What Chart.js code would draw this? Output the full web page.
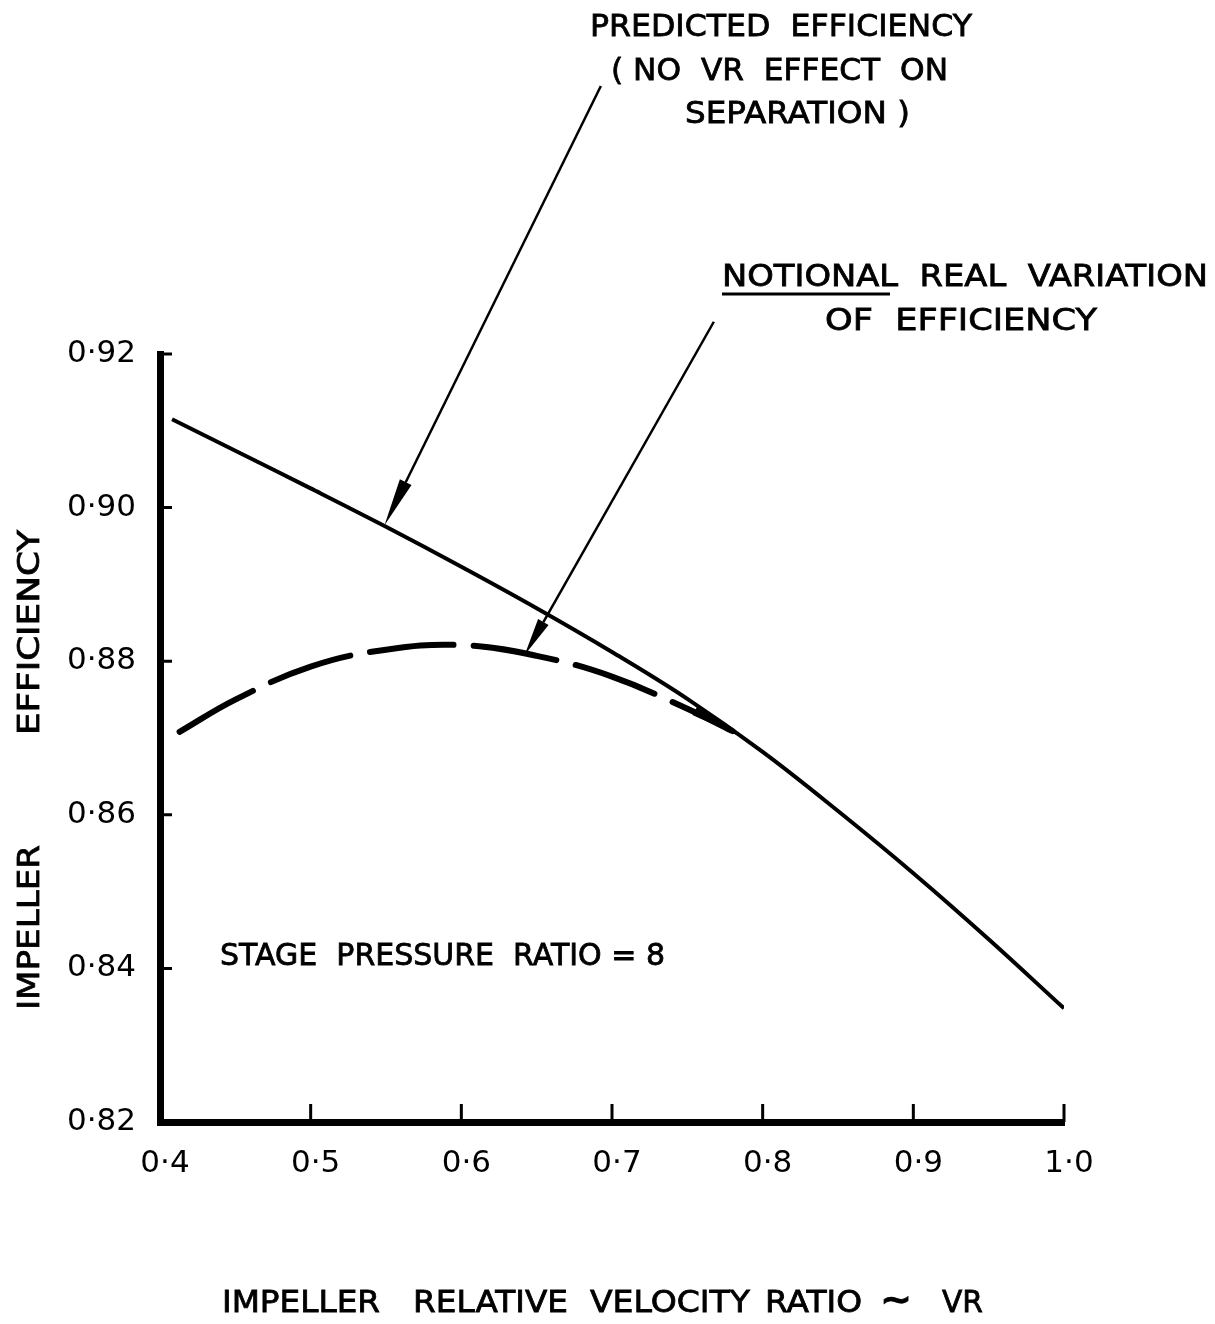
<!DOCTYPE html>
<html>
<head>
<meta charset="utf-8">
<script src="https://cdn.jsdelivr.net/npm/chart.js@4.4.0/dist/chart.umd.min.js"></script>
<style>
  html, body { margin: 0; padding: 0; background: #fff; }
  canvas { display: block; }
</style>
</head>
<body>
<canvas id="chart" width="1215" height="1324"></canvas>
<script>
// Impeller efficiency vs relative velocity ratio, stage pressure ratio 8

const vrPredicted  = [0.408, 0.45, 0.5, 0.55, 0.6, 0.65, 0.7, 0.75, 0.8, 0.85, 0.9, 0.95, 1.0];
const effPredicted = [0.9115, 0.9074, 0.9025, 0.8975, 0.8923, 0.8869, 0.8812, 0.8751, 0.8682, 0.8605, 0.8524, 0.8438, 0.8348];

const vrNotional  = [0.413, 0.45, 0.5, 0.55, 0.6, 0.65, 0.7, 0.75, 0.78];
const effNotional = [0.8708, 0.8750, 0.8793, 0.8815, 0.8821, 0.8807, 0.8780, 0.8738, 0.8709];

const xTicks = [0.4, 0.5, 0.6, 0.7, 0.8, 0.9, 1.0];
const yTicks = [0.82, 0.84, 0.86, 0.88, 0.90, 0.92];

const FONT = '"DejaVu Sans", sans-serif';
const INK = '#000';

const toPoints = (xs, ys) => xs.map((x, i) => ({ x, y: ys[i] }));
const fmt = (v, d) => v.toFixed(d).replace('.', '\u00b7');

// text squeezed / stretched so it sits between x1 and x2
function fitText(ctx, text, x1, x2, cy, size, weight) {
    ctx.save();
    ctx.font = (weight || 'normal') + ' ' + size + 'px ' + FONT;
    ctx.fillStyle = INK;
    ctx.strokeStyle = INK;
    ctx.lineWidth = 0.8;
    ctx.textAlign = 'left';
    ctx.textBaseline = 'middle';
    const natural = ctx.measureText(text).width;
    ctx.translate(x1, cy);
    ctx.scale((x2 - x1) / natural, 1);
    ctx.fillText(text, 0, 0);
    ctx.strokeText(text, 0, 0);
    ctx.restore();
}

function fitTextV(ctx, text, yBottom, yTop, cx, size) {
    ctx.save();
    ctx.translate(cx, yBottom);
    ctx.rotate(-Math.PI / 2);
    fitText(ctx, text, 0, yBottom - yTop, 0, size);
    ctx.restore();
}

function arrow(ctx, x1, y1, x2, y2, headLen, headW, lineW) {
    const a = Math.atan2(y2 - y1, x2 - x1);
    const bx = x2 - headLen * Math.cos(a), by = y2 - headLen * Math.sin(a);
    ctx.save();
    ctx.strokeStyle = INK;
    ctx.fillStyle = INK;
    if (lineW) {
        ctx.lineWidth = lineW;
        ctx.beginPath();
        ctx.moveTo(x1, y1);
        ctx.lineTo(bx, by);
        ctx.stroke();
    }
    ctx.beginPath();
    ctx.moveTo(x2, y2);
    ctx.lineTo(bx + headW / 2 * Math.sin(a), by - headW / 2 * Math.cos(a));
    ctx.lineTo(bx - headW / 2 * Math.sin(a), by + headW / 2 * Math.cos(a));
    ctx.closePath();
    ctx.fill();
    ctx.restore();
}

const decorPlugin = {
    id: 'decor',
    afterDraw(chart) {
        const { ctx, chartArea: area, scales: { x, y } } = chart;
        const px = v => x.getPixelForValue(v);
        const py = v => y.getPixelForValue(v);

        // inward tick marks
        ctx.save();
        ctx.strokeStyle = INK;
        ctx.lineWidth = 3;
        ctx.beginPath();
        yTicks.slice(1).forEach(v => {
            ctx.moveTo(area.left, py(v));
            ctx.lineTo(area.left + 12, py(v));
        });
        xTicks.slice(1).forEach(v => {
            ctx.moveTo(px(v), area.bottom);
            ctx.lineTo(px(v), area.bottom - 18);
        });
        ctx.stroke();
        ctx.restore();

        // callout arrows
        arrow(ctx, px(0.6926), py(0.9549), px(0.549), py(0.8977), 48, 13, 2.5);
        arrow(ctx, px(0.7676), py(0.9242), px(0.642), py(0.8808), 38, 12, 2.5);
        // wedge where the dashed curve runs into the predicted line
        arrow(ctx, px(0.735), py(0.8758), px(0.785), py(0.8702), 52, 10, 0);

        // annotation texts
        fitText(ctx, 'PREDICTED  EFFICIENCY', 590, 972, 28, 31);
        fitText(ctx, '( NO  VR  EFFECT  ON', 611, 948, 72, 31);
        fitText(ctx, 'SEPARATION )', 685, 910, 115, 31);
        fitText(ctx, 'NOTIONAL  REAL  VARIATION', 722, 1208, 278, 31);
        fitText(ctx, 'OF  EFFICIENCY', 825, 1097, 322, 31);
        fitText(ctx, 'STAGE  PRESSURE  RATIO = 8', 220, 665, 957, 31);

        ctx.save();
        ctx.strokeStyle = INK;
        ctx.lineWidth = 3;
        ctx.beginPath();
        ctx.moveTo(722, 294);
        ctx.lineTo(890, 294);
        ctx.stroke();
        ctx.restore();

        // axis titles
        fitText(ctx, 'IMPELLER', 222, 380, 1304, 31);
        fitText(ctx, 'RELATIVE', 413, 568, 1304, 31);
        fitText(ctx, 'VELOCITY', 590, 750, 1304, 31);
        fitText(ctx, 'RATIO', 765, 862, 1304, 31);
        fitText(ctx, '\u223c', 880, 912, 1302, 34, 'bold');
        fitText(ctx, 'VR', 942, 983, 1304, 31);

        fitTextV(ctx, 'IMPELLER', 1010, 845, 31, 31);
        fitTextV(ctx, 'EFFICIENCY', 735, 530, 31, 31);
    }
};

new Chart(document.getElementById('chart'), {
    type: 'line',
    data: {
        datasets: [
            {
                label: 'Predicted efficiency',
                data: toPoints(vrPredicted, effPredicted),
                borderColor: INK,
                borderWidth: 4,
                pointRadius: 0,
                tension: 0.4,
                fill: false,
            },
            {
                label: 'Notional real variation',
                data: toPoints(vrNotional, effNotional),
                borderColor: INK,
                borderWidth: 6,
                borderDash: [84, 20],
                borderCapStyle: 'round',
                pointRadius: 0,
                tension: 0.4,
                fill: false,
            },
        ],
    },
    options: {
        responsive: false,
        animation: false,
        devicePixelRatio: 1,
        layout: { padding: { top: 354, right: 151, left: 0, bottom: 0 } },
        plugins: {
            legend: { display: false },
            tooltip: { enabled: false },
        },
        scales: {
            x: {
                type: 'linear',
                min: 0.4,
                max: 1.0,
                afterBuildTicks: s => { s.ticks = xTicks.map(v => ({ value: v })); },
                afterFit: s => { s.height = 202; },
                grid: { display: false, drawTicks: false },
                border: { display: true, color: INK, width: 7 },
                ticks: {
                    color: INK,
                    padding: 23,
                    labelOffset: 5,
                    maxRotation: 0,
                    font: { family: FONT, size: 31 },
                    callback: v => fmt(v, 1),
                },
            },
            y: {
                type: 'linear',
                min: 0.82,
                max: 0.92,
                afterBuildTicks: s => { s.ticks = yTicks.map(v => ({ value: v })); },
                afterFit: s => { s.width = 160; },
                grid: { display: false, drawTicks: false },
                border: { display: true, color: INK, width: 7 },
                ticks: {
                    color: INK,
                    padding: 24,
                    font: { family: FONT, size: 31 },
                    callback: v => fmt(v, 2),
                },
            },
        },
    },
    plugins: [decorPlugin],
});
</script>
</body>
</html>
